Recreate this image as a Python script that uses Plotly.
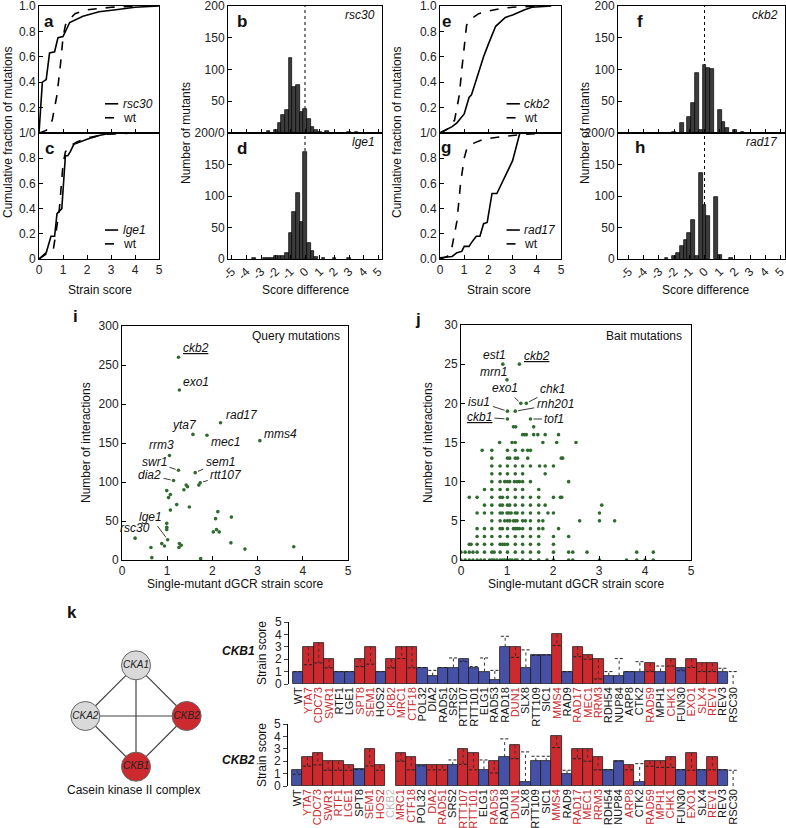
import plotly.graph_objects as go

W, H = 786, 828
FONT = "Liberation Sans, Arial, sans-serif"
RED = "#cc2a2e"
BLUE = "#4651a6"
GREEN = "#2f6a2f"
HISTC = "#3c3c3c"

# ---------------- cumulative distributions (a, c, e, g) ----------------
a_mut_x = [0, 0.14, 0.3, 0.44, 0.65, 0.79, 1.0, 1.14, 1.28, 1.83, 2.5, 3.2, 4.0, 5.0]
a_mut_y = [0, 0.40, 0.42, 0.63, 0.64, 0.75, 0.76, 0.81, 0.87, 0.92, 0.955, 0.97, 0.99, 1.0]
a_wt_x = [0, 0.3, 0.55, 0.75, 0.9, 1.0, 1.1, 1.3, 1.5, 2.0, 2.5, 3.0, 4.0]
a_wt_y = [0, 0.02, 0.1, 0.3, 0.55, 0.75, 0.85, 0.9, 0.94, 0.97, 0.98, 0.99, 1.0]

c_mut_x = [0, 0.3, 0.5, 0.65, 0.75, 0.85, 0.95, 1.1, 1.2, 1.3, 1.45, 2.0, 2.5, 3.0]
c_mut_y = [0, 0.05, 0.18, 0.18, 0.36, 0.38, 0.40, 0.82, 0.82, 0.85, 0.91, 0.95, 0.98, 1.0]
c_wt_x = [0, 0.4, 0.6, 0.7, 0.85, 1.0, 1.1, 1.3, 1.6, 2.0, 2.8, 4.0]
c_wt_y = [0, 0.05, 0.08, 0.2, 0.4, 0.75, 0.85, 0.9, 0.93, 0.96, 0.99, 1.0]

e_mut_x = [0, 0.5, 0.7, 1.0, 1.2, 1.3, 1.5, 1.8, 2.0, 2.3, 2.7, 3.0, 3.5, 3.8, 4.6]
e_mut_y = [0, 0.05, 0.08, 0.15, 0.28, 0.30, 0.42, 0.60, 0.70, 0.84, 0.91, 0.93, 0.97, 0.99, 1.0]
e_wt_x = [0, 0.3, 0.6, 0.8, 0.9, 1.0, 1.1, 1.3, 1.6, 2.0, 2.5, 3.0, 4.0]
e_wt_y = [0, 0.03, 0.1, 0.3, 0.5, 0.7, 0.85, 0.9, 0.94, 0.96, 0.98, 0.99, 1.0]

g_mut_x = [0, 0.5, 0.7, 0.9, 1.0, 1.2, 1.3, 1.5, 1.65, 1.8, 1.95, 2.15, 2.35, 2.7, 3.0, 3.3, 4.5]
g_mut_y = [0.01, 0.02, 0.05, 0.06, 0.10, 0.10, 0.13, 0.18, 0.18, 0.28, 0.29, 0.52, 0.52, 0.66, 0.78, 1.0, 1.0]
g_wt_x = [0, 0.3, 0.5, 0.7, 0.85, 1.0, 1.1, 1.4, 1.8, 2.5, 3.5, 4.5]
g_wt_y = [0, 0.02, 0.1, 0.3, 0.6, 0.8, 0.87, 0.92, 0.95, 0.97, 0.99, 1.0]

# ---------------- score-difference histograms (b, d, f, h) ----------------
b_x = [-2.5, -2.0, -1.75, -1.5, -1.25, -1.0, -0.75, -0.5, -0.25, 0.0, 0.25, 0.5, 0.75, 1.0, 1.5, 3.0, 3.5]
b_n = [3, 5, 16, 28, 36, 118, 72, 75, 33, 38, 22, 10, 5, 2, 3, 1, 1]
d_x = [-3.5, -2.75, -2.5, -2.25, -2.0, -1.75, -1.5, -1.25, -1.0, -0.75, -0.5, -0.25, 0.0, 0.25, 0.5, 0.75, 1.25, 2.0, 3.0]
d_n = [1, 1, 1, 1, 5, 5, 5, 10, 42, 75, 105, 58, 170, 25, 12, 3, 1, 1, 1]
f_x = [-2.0, -1.5, -1.0, -0.75, -0.5, -0.25, 0.0, 0.25, 0.5, 1.0, 1.25, 1.5, 2.0, 2.5]
f_n = [2, 15, 25, 47, 95, 5, 107, 102, 101, 36, 18, 8, 4, 1]
h_x = [-2.5, -2.0, -1.75, -1.5, -1.25, -1.0, -0.75, -0.5, -0.25, 0.0, 0.25, 0.75, 1.0, 1.75]
h_n = [2, 4, 10, 20, 30, 42, 62, 5, 137, 85, 68, 99, 6, 2]

# ---------------- i: query mutations ----------------
query_score = [0.29, 0.64, 0.66, 0.88, 0.94, 1.01, 0.99, 0.99, 0.99, 1.07, 1.21, 1.49,
               0.99, 1.07, 1.03, 1.37, 1.42, 1.45, 1.73, 1.70, 1.14, 1.62, 1.25, 1.05,
               3.05, 1.88, 1.57, 2.18, 1.27, 1.25, 2.12, 2.07, 2.42, 2.09, 2.15, 2.02,
               1.27, 1.31, 1.26, 2.41, 2.72, 3.80, 1.74]
query_n = [28, 16, 3, 21, 18, 26, 47, 42, 39, 64, 71, 68,
           89, 84, 80, 90, 96, 94, 99, 96, 102, 112, 115, 134,
           153, 160, 161, 176, 218, 260, 62, 53, 55, 39, 36, 36,
           21, 19, 16, 22, 14, 17, 2]
query_names = ["rsc30", "", "", "", "", "lge1", "", "", "", "", "", "",
               "", "", "", "", "", "", "rtt107", "", "dia2", "sem1", "swr1", "rrm3",
               "mms4", "mec1", "yta7", "rad17", "exo1", "ckb2", "", "", "", "", "", "",
               "", "", "", "", "", "", ""]

# ---------------- j: bait mutations (x positions listed per interaction count) ----------------
bait_scores_by_count = [
    [0.0, 0.09, 0.18, 0.26, 0.35, 0.43, 0.51, 0.62, 0.67, 0.72, 0.78, 0.85, 0.9, 0.95, 1.0, 1.06,
     1.11, 1.18, 1.22, 1.34, 1.51, 1.69, 1.87, 2.01, 2.34, 2.43, 3.01, 3.6, 3.82, 4.0, 4.18],
    [0.0, 0.09, 0.18, 0.26, 0.35, 0.51, 0.67, 0.72, 0.85, 1.01, 1.18, 1.34, 1.51, 1.69, 2.01,
     2.34, 2.43, 2.74, 3.82, 4.18],
    [0.18, 0.22, 0.35, 0.51, 0.67, 0.85, 0.9, 0.95, 1.01, 1.18, 1.34, 1.51, 1.69, 2.01],
    [0.35, 0.51, 0.67, 0.85, 1.01, 1.18, 1.34, 1.51, 1.69, 2.01, 2.34],
    [0.35, 0.51, 0.67, 0.85, 0.9, 1.01, 1.14, 1.18, 1.22, 1.27, 1.34, 1.51, 1.69, 1.78, 2.12],
    [0.67, 0.85, 0.95, 1.01, 1.06, 1.14, 1.18, 1.22, 1.34, 1.4, 1.51, 1.69, 1.78, 2.58, 3.01, 3.34],
    [0.35, 0.51, 0.67, 0.85, 0.9, 1.0, 1.04, 1.09, 1.18, 1.22, 1.34, 1.51, 1.69, 1.89, 2.01, 3.01],
    [0.51, 0.67, 0.85, 0.9, 1.01, 1.06, 1.18, 1.34, 1.51, 1.69, 1.83, 3.06],
    [0.18, 0.35, 0.67, 0.85, 0.9, 1.01, 1.18, 1.34, 1.51, 1.69, 2.01, 2.16, 2.19],
    [0.51, 0.67, 0.85, 1.01, 1.18, 1.34, 1.69],
    [0.67, 0.85, 0.95, 1.01, 1.06, 1.16, 1.22, 1.27, 1.34, 1.51, 2.34],
    [0.67, 0.85, 1.01, 1.18, 1.34, 1.83],
    [0.67, 0.85, 1.01, 1.18, 1.34, 1.51, 1.71, 1.83, 2.01],
    [0.67, 1.01, 1.06, 1.18, 1.23, 1.45, 2.18, 2.21],
    [0.46, 0.67, 1.01, 1.18, 1.34, 1.45, 1.51],
    [0.84, 1.11, 1.18, 1.78, 2.08, 2.5],
    [1.34, 1.38, 1.42, 1.58, 1.67, 1.83, 2.12],
    [1.14, 1.19, 1.58],
    [1.01, 1.51],
    [1.01, 1.18],
    [1.30, 1.42],
    [],
    [],
    [1.0],
    [],
    [0.91, 1.27],
]
bait_label_names = ["est1", "ckb2", "mrn1", "exo1", "chk1", "isu1", "rnh201", "ckb1", "tof1"]
bait_label_x = [0.91, 1.27, 1.0, 1.30, 1.42, 1.01, 1.18, 1.01, 1.51]
bait_label_y = [25, 25, 23, 20, 20, 19, 19, 18, 18]

# ---------------- k: CKB1 / CKB2 double-mutant strain scores ----------------
genes = ["WT", "YTA7", "CDC73", "SWR1", "RTF1", "LGE1", "SPT8", "SEM1", "HOS2", "CKB2", "MRC1",
         "CTF18", "POL32", "DIA2", "RAD51", "SRS2", "RTT107", "RTT101", "ELG1", "RAD53", "RAD18",
         "DUN1", "SLX8", "RTT109", "SIC1", "MMS4", "RAD9", "RAD17", "MEC1", "RRM3", "RDH54",
         "NUP84", "ARP8", "CTK2", "RAD59", "MPH1", "CHK1", "FUN30", "EXO1", "SLX4", "REV1",
         "REV3", "RSC30"]
ckb1_score = [1.0, 3.0, 3.33, 2.0, 1.0, 1.0, 2.0, 3.0, 1.0, 2.0, 3.0,
              3.0, 1.33, 0.67, 1.33, 1.33, 2.0, 1.33, 1.0, 0.33, 3.0,
              3.0, 1.33, 2.33, 2.33, 4.0, 1.0, 3.0, 2.33, 2.0, 0.67,
              0.67, 1.0, 1.0, 1.67, 1.0, 2.0, 1.33, 2.0, 1.67, 1.67,
              1.0, None]
ckb1_expected = [1.0, 1.55, 1.7, 1.3, 1.0, 1.0, 1.4, 1.6, 1.0, 1.3, 2.05,
                 1.3, 1.33, 1.1, 1.33, 2.1, 1.8, 1.4, 2.1, 1.1, 3.85,
                 2.15, 2.75, 2.3, 2.33, 3.1, 1.0, 2.2, 2.0, 0.4, 1.0,
                 2.05, 1.0, 1.8, 1.0, 1.45, 1.45, 1.07, 1.33, 1.0, 1.0,
                 1.27, 1.0]
ckb1_hit = [0, 1, 1, 1, 0, 0, 1, 1, 0, 1, 1,
            1, 0, 0, 0, 0, 0, 0, 0, 0, 0,
            1, 0, 0, 0, 1, 0, 1, 1, 1, 0,
            0, 0, 0, 1, 0, 1, 0, 1, 1, 1,
            0, 0]
ckb2_score = [1.27, 2.33, 2.67, 2.0, 2.0, 1.67, 1.4, 3.0, 1.67, None, 2.67,
              2.33, 1.67, 1.67, 1.67, 1.67, 3.0, 2.67, 1.33, 2.0, 2.33,
              3.33, 0.33, 2.0, 2.0, 4.0, 1.0, 3.0, 3.0, 2.33, 1.33,
              2.0, 1.67, 0.33, 2.0, 2.0, 2.33, 1.33, 2.67, 1.33, 2.33,
              1.33, None]
ckb2_expected = [0.95, 1.6, 1.7, 1.27, 1.27, 1.27, 1.33, 1.62, 1.27, None, 2.0,
                 1.3, 1.62, 1.3, 1.3, 2.1, 1.75, 1.3, 2.1, 1.05, 3.8,
                 2.2, 2.75, 2.4, 2.4, 3.1, 1.27, 2.2, 2.0, 1.3, 1.3,
                 2.0, 1.3, 1.8, 1.6, 1.5, 1.5, 1.3, 1.27, 1.3, 1.3,
                 1.3, 1.27]
ckb2_hit = [0, 1, 1, 1, 1, 1, 0, 1, 1, 2, 1,
            1, 0, 1, 1, 0, 1, 1, 0, 1, 0,
            1, 0, 0, 0, 1, 0, 1, 1, 1, 0,
            0, 1, 0, 1, 1, 1, 0, 1, 0, 1,
            0, 0]

# ---------------- k: casein kinase II network ----------------
node_names = ["CKA1", "CKA2", "CKB2", "CKB1"]
node_x = [0, -1, 1, 0]
node_y = [1, 0, 0, -1]
node_hit = [0, 0, 1, 1]


# =====================================================================
def xdom(p0, p1):
    return [p0 / W, p1 / W]


def ydom(p0, p1):
    return [1 - p1 / H, 1 - p0 / H]


def names(n):
    if n == 1:
        return "x", "y", "xaxis", "yaxis"
    return f"x{n}", f"y{n}", f"xaxis{n}", f"yaxis{n}"


fig = go.Figure()
axes = {}
ann = []
shapes = []

AX = dict(showline=True, linecolor="black", linewidth=1, mirror=True, ticks="inside",
          ticklen=4, tickcolor="black", showgrid=False, zeroline=False, automargin=False,
          ticklabeloverflow="allow", tickfont=dict(size=12, color="#222"))


def box(n, xd, yd, xr, yr, xt, yt, xlab=None, ylab=None, xangle=0):
    xa, ya, xk, yk = names(n)
    axes[xk] = dict(AX, domain=xdom(*xd), anchor=ya, range=xr, tickvals=xt,
                    showticklabels=xlab is not None, tickangle=xangle)
    if xlab is not None:
        axes[xk]["ticktext"] = xlab
    axes[yk] = dict(AX, domain=ydom(*yd), anchor=xa, range=yr, tickvals=yt, ticktext=ylab)
    return xa, ya


def ptxt(x, y, text, size=12, **kw):
    d = dict(x=x / W, y=1 - y / H, xref="paper", yref="paper", text=text, showarrow=False,
             font=dict(size=size, color="#111", family=FONT), xanchor="center", yanchor="middle")
    d.update(kw)
    ann.append(d)


frac_ticks = [0, 0.2, 0.4, 0.6, 0.8, 1.0]
strain_ticks = [0, 1, 2, 3, 4, 5]
diff_ticks = list(range(-5, 6))
diff_text = [str(v) for v in diff_ticks]
hist_ticks = [0, 50, 100, 150, 200]

cdf_panels = [
    (1, (39, 159), (6, 133), a_mut_x, a_mut_y, a_wt_x, a_wt_y, "rsc30", False),
    (2, (39, 159), (133, 259), c_mut_x, c_mut_y, c_wt_x, c_wt_y, "lge1", True),
    (5, (440, 561), (6, 133), e_mut_x, e_mut_y, e_wt_x, e_wt_y, "ckb2", False),
    (6, (440, 561), (133, 259), g_mut_x, g_mut_y, g_wt_x, g_wt_y, "rad17", True),
]
for n, xd, yd, mx, my, wx, wy, gname, bottom in cdf_panels:
    if bottom:
        zero = "0" if n == 2 else "0.0"
        ylab = [zero, "0.2", "0.4", "0.6", "0.8", "1/0"]
        xlab = [str(v) for v in strain_ticks]
    else:
        ylab = ["", "0.2", "0.4", "0.6", "0.8", "1.0"]
        xlab = None
    xa, ya = box(n, xd, yd, [0, 5], [0, 1.0], strain_ticks, frac_ticks, xlab, ylab)
    fig.add_trace(go.Scatter(x=wx, y=wy, xaxis=xa, yaxis=ya, mode="lines",
                             line=dict(color="black", width=1.6, dash="dash"), showlegend=False))
    fig.add_trace(go.Scatter(x=mx, y=my, xaxis=xa, yaxis=ya, mode="lines",
                             line=dict(color="black", width=1.6), showlegend=False))
    # legend inside the panel
    for k, (txt, dash) in enumerate([(f"<i>{gname}</i>", "solid"), ("wt", "dash")]):
        yy = 0.23 - 0.11 * k
        shapes.append(dict(type="line", xref=f"{xa} domain", yref=f"{ya} domain",
                           x0=0.55, x1=0.66, y0=yy, y1=yy,
                           line=dict(color="black", width=1.6, dash=dash)))
        ann.append(dict(x=0.68, y=yy, xref=f"{xa} domain", yref=f"{ya} domain", text=txt,
                        showarrow=False, xanchor="left", yanchor="middle",
                        font=dict(size=12, color="#111", family=FONT)))

hist_panels = [
    (3, (228, 382), (6, 133), [-5.25, 5.25], b_x, b_n, "rsc30", False),
    (4, (228, 382), (133, 259), [-5.25, 5.25], d_x, d_n, "lge1", True),
    (7, (618, 785), (6, 133), [-5.7, 5.3], f_x, f_n, "ckb2", False),
    (8, (618, 785), (133, 259), [-5.7, 5.3], h_x, h_n, "rad17", True),
]
for n, xd, yd, xr, hx, hn, gname, bottom in hist_panels:
    if bottom:
        ylab = ["0", "50", "100", "150", "200/0"]
        xlab = diff_text
    else:
        ylab = ["", "50", "100", "150", "200"]
        xlab = None
    xa, ya = box(n, xd, yd, xr, [0, 200], diff_ticks, hist_ticks, xlab, ylab, xangle=-45)
    fig.add_trace(go.Bar(x=hx, y=hn, xaxis=xa, yaxis=ya, width=0.25, showlegend=False,
                         marker=dict(color=HISTC, line=dict(color="black", width=0.7))))
    shapes.append(dict(type="line", xref=xa, yref=f"{ya} domain", x0=0, x1=0, y0=0, y1=1,
                       line=dict(color="black", width=1, dash="dot"), layer="below"))
    ann.append(dict(x=0.97, y=0.93, xref=f"{xa} domain", yref=f"{ya} domain",
                    text=f"<i>{gname}</i>", showarrow=False, xanchor="right", yanchor="middle",
                    font=dict(size=12, color="#111", family=FONT)))

# panel letters
for letter, x, y in [("a", 49, 21), ("b", 242, 21), ("c", 49, 148), ("d", 242, 148),
                     ("e", 446, 21), ("f", 640, 21), ("g", 446, 147), ("h", 640, 147),
                     ("i", 75, 317), ("j", 418, 320), ("k", 72, 612)]:
    ptxt(x, y, f"<b>{letter}</b>", size=17)

ptxt(8, 133, "Cumulative fraction of mutations", 12, textangle=-90)
ptxt(186, 133, "Number of mutants", 12, textangle=-90)
ptxt(397, 133, "Cumulative fraction of mutations", 12, textangle=-90)
ptxt(585, 133, "Number of mutants", 12, textangle=-90)
ptxt(100, 290, "Strain score", 12)
ptxt(305, 290, "Score difference", 12)
ptxt(499, 290, "Strain score", 12)
ptxt(705, 290, "Score difference", 12)

# ---------------- i ----------------
xa, ya = box(9, (122, 348), (326, 560), [0, 5], [0, 300], strain_ticks,
             [0, 50, 100, 150, 200, 250, 300], [str(v) for v in strain_ticks],
             [str(v) for v in [0, 50, 100, 150, 200, 250, 300]])
fig.add_trace(go.Scatter(x=query_score, y=query_n, xaxis=xa, yaxis=ya, mode="markers",
                         marker=dict(color=GREEN, size=3.6), showlegend=False))
ptxt(86, 443, "Number of interactions", 12, textangle=-90)
ptxt(235, 584, "Single-mutant dGCR strain score", 12)
ptxt(342, 336, "Query mutations", 12, xanchor="right")

# label placement: (arrow?, dx, dy, anchor)
query_label_pos = {
    "ckb2": (False, 2, 9, "left"), "exo1": (False, 2, 8, "left"),
    "rad17": (False, 3, 8, "left"), "yta7": (False, -8, 9, "center"),
    "mec1": (False, 2, -7, "left"), "mms4": (False, 2, 7, "left"),
    "rrm3": (False, -8, 10, "center"), "rsc30": (False, 0, 10, "center"),
    "swr1": (True, -24, -8, None), "sem1": (True, 25, -11, None),
    "dia2": (True, -24, -5, None), "rtt107": (True, 26, -8, None),
    "lge1": (True, -17, -23, None),
}


def gene_label(xa, ya, x, y, name, arrow, dx, dy, anchor, underline=False):
    txt = f"<i>{name}</i>"
    if underline:
        txt = f"<u>{txt}</u>"
    d = dict(x=x, y=y, xref=xa, yref=ya, text=txt,
             font=dict(size=12, color="#111", family=FONT))
    if arrow:
        d.update(showarrow=True, ax=dx, ay=dy, arrowhead=0, arrowwidth=0.9,
                 arrowcolor="#222", standoff=3, startstandoff=1)
    else:
        d.update(showarrow=False, xshift=dx, yshift=dy, xanchor=anchor, yanchor="middle")
    ann.append(d)


for qx, qy, qn in zip(query_score, query_n, query_names):
    if qn:
        arrow, dx, dy, anchor = query_label_pos[qn]
        gene_label(xa, ya, qx, qy, qn, arrow, dx, dy, anchor, underline=(qn == "ckb2"))

# ---------------- j ----------------
xa, ya = box(10, (461, 691), (325, 560), [0, 5], [0, 30], strain_ticks,
             [0, 5, 10, 15, 20, 25, 30], [str(v) for v in strain_ticks],
             [str(v) for v in [0, 5, 10, 15, 20, 25, 30]])
bait_x, bait_y = [], []
for count, xs in enumerate(bait_scores_by_count):
    bait_x += xs
    bait_y += [count] * len(xs)
fig.add_trace(go.Scatter(x=bait_x, y=bait_y, xaxis=xa, yaxis=ya, mode="markers",
                         marker=dict(color=GREEN, size=3.6), showlegend=False))
ptxt(428, 443, "Number of interactions", 12, textangle=-90)
ptxt(576, 584, "Single-mutant dGCR strain score", 12)
ptxt(684, 336, "Bait mutations", 12, xanchor="right")

bait_label_pos = {
    "est1": (False, -8, 9, "center"), "ckb2": (False, 3, 8, "left"),
    "mrn1": (False, 2, 8, "right"), "exo1": (True, -16, -15, None),
    "chk1": (True, 26, -14, None), "isu1": (True, -28, -9, None),
    "rnh201": (True, 40, -7, None), "ckb1": (True, -28, -2, None),
    "tof1": (True, 24, 0, None),
}
for bx, by, bn in zip(bait_label_x, bait_label_y, bait_label_names):
    arrow, dx, dy, anchor = bait_label_pos[bn]
    gene_label(xa, ya, bx, by, bn, arrow, dx, dy, anchor, underline=bn in ("ckb2", "ckb1"))


# ---------------- k: bar charts ----------------
def colored(name, flag):
    col = {0: "#111111", 1: RED, 2: "#bbbbbb"}[flag]
    return f'<span style="color:{col}">{name}</span>'


bar_rows = [
    (11, (288, 740), (622, 684), ckb1_score, ckb1_expected, ckb1_hit, "CKB1", 651),
    (12, (287, 740), (724, 786), ckb2_score, ckb2_expected, ckb2_hit, "CKB2", 760),
]
idx = list(range(len(genes)))
for n, xd, yd, score, expected, hit, qname, ylab_y in bar_rows:
    xa, ya, xk, yk = names(n)
    axes[xk] = dict(domain=xdom(*xd), anchor=ya, range=[-0.965, 42.665], showline=False,
                    showgrid=False, zeroline=False, ticks="", tickvals=idx, automargin=False,
                    ticklabeloverflow="allow",
                    ticktext=[colored(g, h) for g, h in zip(genes, hit)], tickangle=-90,
                    tickfont=dict(size=11, family=FONT))
    axes[yk] = dict(domain=ydom(*yd), anchor="free", position=xd[0] / W, range=[0, 5],
                    showline=True, linecolor="black", linewidth=1, ticks="outside", ticklen=4,
                    tickvals=[0, 1, 2, 3, 4, 5], showgrid=False, zeroline=False,
                    automargin=False, ticklabeloverflow="allow",
                    tickfont=dict(size=12, color="#222"))
    colors = [RED if h == 1 else BLUE for h in hit]
    fig.add_trace(go.Bar(x=idx, y=score, xaxis=xa, yaxis=ya, width=1.0, showlegend=False,
                         marker=dict(color=colors, line=dict(color="#1a1a1a", width=0.8))))
    # expected score: dashed level, dotted connector to the observed score
    ex_x, ex_y, dv_x, dv_y = [], [], [], []
    for i, (s, e) in enumerate(zip(score, expected)):
        if e is None:
            continue
        ex_x += [i - 0.42, i + 0.42, None]
        ex_y += [e, e, None]
        dv_x += [i, i, None]
        dv_y += [s if s is not None else 0, e, None]
    fig.add_trace(go.Scatter(x=dv_x, y=dv_y, xaxis=xa, yaxis=ya, mode="lines",
                             line=dict(color="#333", width=1, dash="dot"), showlegend=False))
    fig.add_trace(go.Scatter(x=ex_x, y=ex_y, xaxis=xa, yaxis=ya, mode="lines",
                             line=dict(color="#222", width=1, dash="3px,2px"), showlegend=False))
    ptxt(262, (yd[0] + yd[1]) / 2, "Strain score", 12, textangle=-90)
    ptxt(238, ylab_y, f"<b><i>{qname}</i></b>", 12)

# ---------------- k: network ----------------
xa, ya, xk, yk = names(13)
axes[xk] = dict(domain=xdom(60, 212), anchor=ya, range=[-1.5, 1.5], visible=False)
axes[yk] = dict(domain=ydom(640, 792), anchor=xa, range=[-1.5, 1.5], visible=False)
ex, ey = [], []
for i in range(len(node_names)):
    for j in range(i + 1, len(node_names)):
        ex += [node_x[i], node_x[j], None]
        ey += [node_y[i], node_y[j], None]
fig.add_trace(go.Scatter(x=ex, y=ey, xaxis=xa, yaxis=ya, mode="lines",
                         line=dict(color="#444", width=1.2), showlegend=False))
fig.add_trace(go.Scatter(x=node_x, y=node_y, xaxis=xa, yaxis=ya, mode="markers+text",
                         text=[f"<i>{nm}</i>" for nm in node_names], textposition="middle center",
                         textfont=dict(size=10, color="#222", family=FONT),
                         marker=dict(size=29, color=[RED if h else "#d9d9d9" for h in node_hit],
                                     line=dict(color="#666", width=1)),
                         showlegend=False))
ptxt(133, 790, "Casein kinase II complex", 12)

fig.update_layout(
    template="none",
    width=W, height=H, margin=dict(l=0, r=0, t=0, b=0, autoexpand=False),
    paper_bgcolor="white", plot_bgcolor="white",
    font=dict(family=FONT, size=12, color="#111"),
    bargap=0, annotations=ann, shapes=shapes, showlegend=False,
    **axes,
)
# the page's default body margin would push the fixed-size figure off the window
fig.write_html("out.html", config={"displayModeBar": False},
               post_script="document.body.style.margin='0px';")
